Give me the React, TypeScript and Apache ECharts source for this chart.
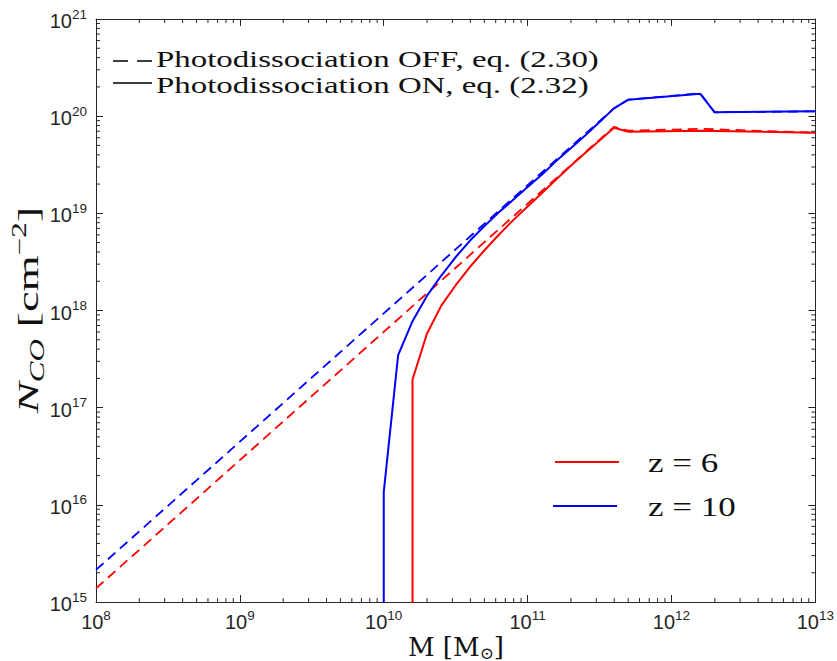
import React, { useEffect, useRef } from "react";
import * as echarts from "echarts";

// Axis ranges
const X_MIN = 1e8;
const X_MAX = 1e13;
const Y_MIN = 1e15;
const Y_MAX = 1e21;

// Column fully photodissociated: drawn below the axis floor (log10 N)
const DISSOCIATED = 10;

// log10 M [M_sun] and log10 N_CO [cm^-2]
// z = 6, photodissociation OFF (eq. 2.30)
const massOffZ6 = [8, 9, 10, 11, 11.6, 11.7, 12.2, 13.0];
const nOffZ6 = [15.14, 16.46, 17.78, 19.1, 19.89, 19.85, 19.87, 19.83];

// z = 10, photodissociation OFF (eq. 2.30)
const massOffZ10 = [8, 9, 10, 11, 11.6, 11.7, 12.2, 12.3, 13.0];
const nOffZ10 = [15.33, 16.65, 17.97, 19.29, 20.08, 20.17, 20.235, 20.04, 20.05];

// z = 6, photodissociation ON (eq. 2.32)
const massOnZ6 = [
  10.2, 10.2, 10.3, 10.4, 10.5, 10.6, 10.7, 10.8, 10.9, 11.0, 11.1, 11.2, 11.3,
  11.4, 11.5, 11.6, 11.7, 12.2, 13.0,
];
const nOnZ6 = [
  DISSOCIATED, 17.29, 17.76, 18.05, 18.26, 18.45, 18.62, 18.78, 18.93, 19.07,
  19.21, 19.35, 19.49, 19.62, 19.75, 19.88, 19.84, 19.85, 19.83,
];

// z = 10, photodissociation ON (eq. 2.32)
const massOnZ10 = [
  10.0, 10.0, 10.1, 10.2, 10.3, 10.4, 10.5, 10.6, 10.7, 10.8, 10.9, 11.0, 11.1,
  11.2, 11.3, 11.4, 11.5, 11.6, 11.7, 12.2, 12.3, 13.0,
];
const nOnZ10 = [
  DISSOCIATED, 16.13, 17.54, 17.89, 18.15, 18.36, 18.55, 18.72, 18.87, 19.01,
  19.14, 19.27, 19.4, 19.54, 19.67, 19.8, 19.94, 20.08, 20.17, 20.23, 20.04,
  20.05,
];

const offLegend = "Photodissociation OFF, eq. (2.30)";
const onLegend = "Photodissociation ON, eq. (2.32)";
const zLabels = ["z = 6", "z = 10"];

const RED = "#ff0000";
const BLUE = "#0000ff";
const AXIS = "#262626";
const INK = "#111111";
const SANS = "Liberation Sans, Arial, sans-serif";
const SERIF = "Liberation Serif, Times New Roman, serif";
const WIDE_SERIF = "DejaVu Serif, serif";
const MAJOR = 7;
const MINOR = 4;

const toPairs = (m: number[], n: number[]) =>
  m.map((v, i) => [Math.pow(10, v), Math.pow(10, n[i])]);

const powLabel = (v: number) => `{b|10}{s|${Math.round(Math.log10(v))}}`;

const tickRich = {
  b: { fontFamily: SANS, fontSize: 20, lineHeight: 28, color: AXIS },
  s: { fontFamily: SANS, fontSize: 13.5, lineHeight: 13, color: AXIS, verticalAlign: "top" },
};

// minor ticks at 2..9 x 10^k
const minorTicks = (lo: number, hi: number) => {
  const out: number[] = [];
  for (let d = lo; d < hi; d++) for (let k = 2; k <= 9; k++) out.push(k * Math.pow(10, d));
  return out;
};
const minorX = minorTicks(8, 13);
const minorY = minorTicks(15, 21);

function buildOption() {
  const dashed = [10, 6];
  const logAxisBase = {
    type: "log" as const,
    logBase: 10,
    splitLine: { show: false },
    axisLine: { show: true, lineStyle: { color: AXIS, width: 1 } },
    axisTick: { show: true, inside: true, length: MAJOR, lineStyle: { color: AXIS } },
  };
  const tickData = [
    ...minorX.map((v) => [v, Y_MIN, 0]),
    ...minorY.map((v) => [X_MIN, v, 1]),
  ];
  const legendText = (text: string, y: number) => ({
    type: "text",
    x: 156,
    y,
    scaleX: 1.37,
    style: {
      text,
      fontFamily: SERIF,
      fontSize: 24,
      lineHeight: 24,
      fill: INK,
      verticalAlign: "middle",
      align: "left",
    },
  });
  const zText = (text: string, y: number) => ({
    type: "text",
    x: 648,
    y,
    scaleX: 1.25,
    style: {
      text,
      fontFamily: SERIF,
      fontSize: 28,
      lineHeight: 30,
      fill: INK,
      verticalAlign: "middle",
      align: "left",
    },
  });
  return {
    animation: false,
    backgroundColor: "#ffffff",
    grid: { left: 96, right: 20, top: 19, bottom: 59, containLabel: false },
    xAxis: [
      {
        ...logAxisBase,
        position: "bottom",
        min: X_MIN,
        max: X_MAX,
        splitNumber: 5,
        axisLabel: {
          show: true,
          margin: 6,
          formatter: powLabel,
          rich: tickRich,
          showMinLabel: true,
          showMaxLabel: true,
        },
      },
      {
        ...logAxisBase,
        position: "top",
        min: X_MIN,
        max: X_MAX,
        splitNumber: 5,
        axisLabel: { show: false },
      },
    ],
    yAxis: [
      {
        ...logAxisBase,
        position: "left",
        min: Y_MIN,
        max: Y_MAX,
        splitNumber: 6,
        axisLabel: {
          show: true,
          margin: 9,
          formatter: powLabel,
          rich: tickRich,
          showMinLabel: true,
          showMaxLabel: true,
          padding: [4, 0, 0, 0],
        },
      },
      {
        ...logAxisBase,
        position: "right",
        min: Y_MIN,
        max: Y_MAX,
        splitNumber: 6,
        axisLabel: { show: false },
      },
    ],
    series: [
      {
        type: "custom",
        name: "minor ticks",
        xAxisIndex: 0,
        yAxisIndex: 0,
        silent: true,
        z: 5,
        data: tickData,
        renderItem: (params: any, api: any) => {
          const cs = params.coordSys;
          const p = api.coord([api.value(0), api.value(1)]);
          const st = { stroke: AXIS, lineWidth: 1 };
          if (api.value(2) === 0) {
            const bottom = cs.y + cs.height;
            return {
              type: "group",
              children: [
                { type: "line", shape: { x1: p[0], y1: bottom, x2: p[0], y2: bottom - MINOR }, style: st },
                { type: "line", shape: { x1: p[0], y1: cs.y, x2: p[0], y2: cs.y + MINOR }, style: st },
              ],
            };
          }
          const right = cs.x + cs.width;
          return {
            type: "group",
            children: [
              { type: "line", shape: { x1: cs.x, y1: p[1], x2: cs.x + MINOR, y2: p[1] }, style: st },
              { type: "line", shape: { x1: right, y1: p[1], x2: right - MINOR, y2: p[1] }, style: st },
            ],
          };
        },
      },
      {
        type: "line",
        name: "z=6 off",
        data: toPairs(massOffZ6, nOffZ6),
        showSymbol: false,
        clip: true,
        lineStyle: { color: RED, width: 1.8, type: dashed },
      },
      {
        type: "line",
        name: "z=10 off",
        data: toPairs(massOffZ10, nOffZ10),
        showSymbol: false,
        clip: true,
        lineStyle: { color: BLUE, width: 1.8, type: dashed },
      },
      {
        type: "line",
        name: "z=6 on",
        data: toPairs(massOnZ6, nOnZ6),
        showSymbol: false,
        clip: true,
        lineStyle: { color: RED, width: 2 },
      },
      {
        type: "line",
        name: "z=10 on",
        data: toPairs(massOnZ10, nOnZ10),
        showSymbol: false,
        clip: true,
        lineStyle: { color: BLUE, width: 2 },
      },
    ],
    graphic: [
      // line-style key
      { type: "line", shape: { x1: 113, y1: 61, x2: 152, y2: 61 }, style: { stroke: "#000", lineWidth: 1.5, lineDash: [15, 9] } },
      legendText(offLegend, 59),
      { type: "line", shape: { x1: 113, y1: 83, x2: 152, y2: 83 }, style: { stroke: "#000", lineWidth: 1.5 } },
      legendText(onLegend, 85),
      // redshift key
      { type: "line", shape: { x1: 555, y1: 462, x2: 619, y2: 462 }, style: { stroke: RED, lineWidth: 2 } },
      zText(zLabels[0], 463),
      { type: "line", shape: { x1: 553, y1: 506, x2: 617, y2: 506 }, style: { stroke: BLUE, lineWidth: 2 } },
      zText(zLabels[1], 507),
      // axis titles
      {
        type: "text",
        x: 456,
        y: 647,
        style: {
          text: "{r|M [M}{s|\u2299}{r|]}",
          align: "center",
          verticalAlign: "middle",
          rich: {
            r: { fontFamily: WIDE_SERIF, fontSize: 26, lineHeight: 28, fill: INK },
            s: { fontFamily: WIDE_SERIF, fontSize: 17, lineHeight: 17, fill: INK, verticalAlign: "bottom" },
          },
        },
      },
      {
        type: "text",
        x: 28,
        y: 310,
        rotation: Math.PI / 2,
        scaleX: 1.55,
        style: {
          text: "{i|N}{sub|CO}{r| [cm}{sup|\u22122}{r|]}",
          align: "center",
          verticalAlign: "middle",
          rich: {
            i: { fontFamily: SERIF, fontSize: 30, fontStyle: "italic", lineHeight: 38, fill: INK },
            sub: { fontFamily: SERIF, fontSize: 20, fontStyle: "italic", lineHeight: 20, fill: INK, verticalAlign: "bottom" },
            r: { fontFamily: SERIF, fontSize: 30, lineHeight: 38, fill: INK },
            sup: { fontFamily: SERIF, fontSize: 20, lineHeight: 20, fill: INK, verticalAlign: "top" },
          },
        },
      },
    ],
  };
}

export default function App() {
  const ref = useRef<HTMLDivElement>(null);
  useEffect(() => {
    if (!ref.current) return;
    const chart = echarts.init(ref.current, null, { renderer: "svg" });
    chart.setOption(buildOption() as any);
    return () => chart.dispose();
  }, []);
  return (
    <div
      ref={ref}
      style={{ position: "absolute", left: 0, top: 0, width: 837, height: 661, background: "#fff" }}
    />
  );
}
